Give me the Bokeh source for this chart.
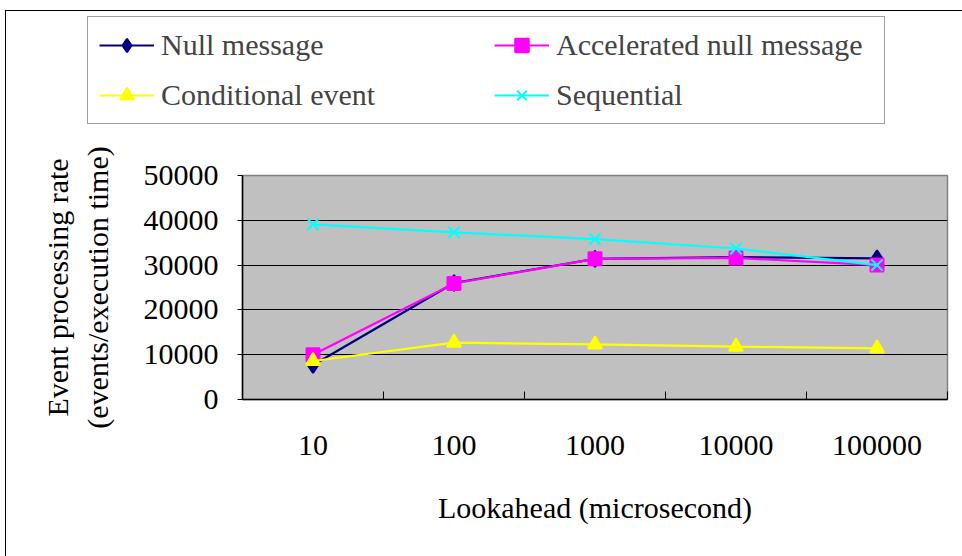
from bokeh.plotting import figure
from bokeh.layouts import column
from bokeh.models import FixedTicker, Legend, LegendItem, Range1d, NumeralTickFormatter
from bokeh.embed import file_html
from bokeh.resources import INLINE

lookahead = ["10", "100", "1000", "10000", "100000"]
null_message = [7700, 26000, 31400, 31800, 31500]
accelerated = [10000, 25900, 31400, 31600, 30000]
conditional = [8600, 12700, 12300, 11800, 11400]
sequential = [39100, 37300, 35800, 33700, 30000]
y_ticks = [0, 10000, 20000, 30000, 40000, 50000]

xs = list(range(len(lookahead)))
FONT = "Liberation Serif"

series = [
    ("Null message", null_message, "#000080", "diamond", 16),
    ("Accelerated null message", accelerated, "#FF00FF", "square", 13),
    ("Conditional event", conditional, "#FFFF00", "triangle", 14),
    ("Sequential", sequential, "#00FFFF", "x", 16),
]

# ---- main plot ----
p = figure(width=957, height=416, output_backend="svg", toolbar_location=None,
           x_range=Range1d(-0.5, len(lookahead) - 0.5), y_range=Range1d(y_ticks[0], y_ticks[-1]),
           min_border_left=236, min_border_right=16, min_border_top=34, min_border_bottom=158)
p.frame_align = False
p.background_fill_color = "#C0C0C0"
p.border_fill_color = "white"
p.outline_line_color = "#808080"
p.outline_line_width = 1.5

for name, vals, col, mk, sz in series:
    p.line(xs, vals, line_color=col, line_width=2.2)
    p.scatter(xs, vals, marker=mk, size=sz, fill_color=col, line_color=col, line_width=2)

p.xaxis.ticker = FixedTicker(ticks=xs, minor_ticks=[x + 0.5 for x in xs])
p.xaxis.major_label_overrides = {x: lab for x, lab in zip(xs, lookahead)}
p.xaxis.major_tick_in = 0
p.xaxis.major_tick_out = 0
p.xaxis.minor_tick_in = 8
p.xaxis.minor_tick_out = 0
p.xaxis.minor_tick_line_color = "black"
p.xaxis.axis_line_color = "black"
p.xaxis.axis_line_width = 1.5
p.xaxis.major_label_standoff = 36
p.xaxis.axis_label = "Lookahead (microsecond)"
p.xaxis.axis_label_standoff = 33

p.yaxis.ticker = FixedTicker(ticks=y_ticks)
p.yaxis.formatter = NumeralTickFormatter(format="0")
p.yaxis.major_tick_out = 5
p.yaxis.major_tick_in = 0
p.yaxis.major_tick_line_color = "black"
p.yaxis.axis_line_color = "black"
p.yaxis.axis_line_width = 1.5
p.yaxis.major_label_standoff = 19
p.yaxis.axis_label = "Event processing rate\n(events/execution time)"
p.yaxis.axis_label_standoff = 27

for ax in (p.xaxis, p.yaxis):
    ax.major_label_text_font = FONT
    ax.major_label_text_font_size = "30px"
    ax.major_label_text_color = "black"
    ax.axis_label_text_font = FONT
    ax.axis_label_text_font_size = "30px"
    ax.axis_label_text_font_style = "normal"
    ax.axis_label_text_color = "black"

p.xgrid.visible = False
p.ygrid.ticker = FixedTicker(ticks=y_ticks[1:-1])
p.ygrid.grid_line_color = "black"
p.ygrid.grid_line_width = 1

# ---- legend strip (its data lies outside its own view; only the legend shows) ----
lf = figure(width=957, height=130, output_backend="svg", toolbar_location=None,
            x_axis_location=None, y_axis_location=None,
            x_range=Range1d(-0.5, len(lookahead) - 0.5), y_range=Range1d(-2, -1),
            min_border_left=0, min_border_right=0, min_border_top=0, min_border_bottom=0)
lf.frame_align = False
lf.outline_line_color = None
lf.background_fill_color = "white"
lf.border_fill_color = "white"
lf.grid.visible = False

items = []
for name, vals, col, mk, sz in series:
    r1 = lf.line(xs, vals, line_color=col, line_width=2.2)
    r2 = lf.scatter(xs, vals, marker=mk, size=sz, fill_color=col, line_color=col, line_width=2)
    items.append(LegendItem(label=name, renderers=[r1, r2]))

legend = Legend(items=items, location=(81, 17), orientation="horizontal", ncols=2,
                glyph_width=55, glyph_height=34, label_standoff=7, label_width=317,
                spacing=16, padding=11, margin=0,
                label_text_font=FONT, label_text_font_size="30px",
                border_line_color="#404040", border_line_width=1.5,
                background_fill_color="white", background_fill_alpha=1)
lf.add_layout(legend)

layout = column(lf, p, spacing=0)
layout.margin = (10, 0, 0, 5)
layout.styles = {"border-left": "1.5px solid black", "border-top": "1.5px solid black"}

open("out.html", "w").write(file_html(layout, INLINE))
